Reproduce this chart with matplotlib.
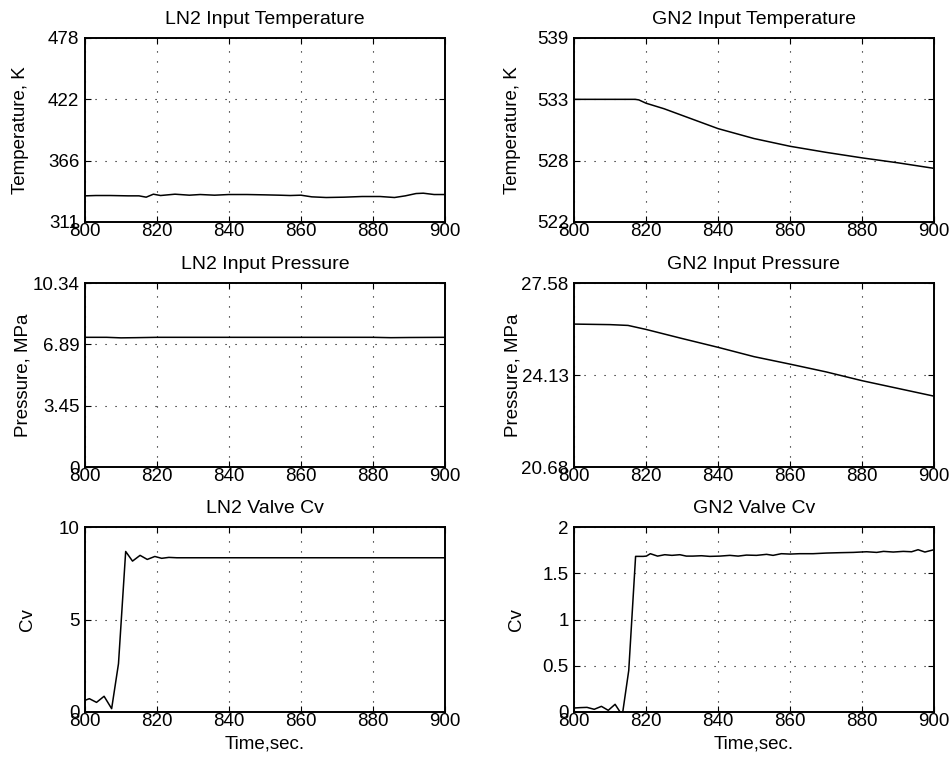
from matplotlib import pyplot as plt

plt.rcParams['font.family'] = ['Liberation Sans', 'DejaVu Sans']
plt.rcParams['font.size'] = 13.5

# LN2 input temperature, K
ln2_temp_t = [800, 803, 807, 812, 815, 817, 819, 821, 825, 829, 832, 836, 840, 845, 850,
              854, 857, 860, 863, 867, 872, 877, 882, 886, 889, 892, 894, 897, 900]
ln2_temp = [334.6, 334.9, 334.9, 334.6, 334.6, 333.4, 336.1, 334.9, 336.1, 335.2, 335.8,
            335.2, 335.8, 335.8, 335.5, 335.2, 334.9, 335.2, 333.7, 333.1, 333.4, 334.0,
            334.0, 333.1, 334.6, 336.7, 337.0, 335.8, 335.8]

# GN2 input temperature, K
gn2_temp_t = [800, 810, 817, 818, 820, 825, 830, 840, 850, 860, 870, 880, 890, 900]
gn2_temp = [533.15, 533.15, 533.15, 533.1, 532.8, 532.3, 531.7, 530.5, 529.6, 528.9,
            528.35, 527.85, 527.4, 526.9]

# LN2 input pressure, MPa
ln2_pres_t = [800, 806, 810, 814, 820, 840, 860, 880, 885, 890, 900]
ln2_pres = [7.29, 7.29, 7.26, 7.27, 7.29, 7.29, 7.29, 7.29, 7.27, 7.28, 7.29]

# GN2 input pressure, MPa
gn2_pres_t = [800, 810, 815, 820, 830, 840, 850, 860, 870, 880, 890, 900]
gn2_pres = [26.04, 26.02, 25.99, 25.84, 25.50, 25.17, 24.82, 24.54, 24.25, 23.92, 23.63, 23.34]

# LN2 valve Cv
ln2_cv_t = [800, 801.2, 803.2, 805.3, 807.4, 809.3, 811.3, 813.2, 815.3, 817.3, 819.4,
            821.3, 823.3, 825.5, 850, 875, 900]
ln2_cv = [0.63, 0.72, 0.52, 0.85, 0.18, 2.61, 8.68, 8.16, 8.47, 8.25, 8.41, 8.31, 8.36,
          8.34, 8.34, 8.34, 8.34]

# GN2 valve Cv
gn2_cv_t = [800, 801.6, 803.6, 805.6, 807.6, 809.5, 811.4, 813.4, 815.2, 817.1, 819.2,
            820.1, 821.2, 823.2, 825.2, 827.2, 829.4, 831.2, 833, 835.4, 837.7, 840.5,
            843.3, 845.6, 847.9, 850.7, 853.5, 855.3, 857.6, 860, 862.7, 866.4, 870.2,
            873.9, 877.6, 881.3, 884.1, 886, 888.7, 891.5, 893.8, 895.6, 897.5, 900]
gn2_cv = [0.043, 0.047, 0.050, 0.029, 0.061, 0.018, 0.083, -0.036, 0.45, 1.683, 1.683,
          1.686, 1.712, 1.686, 1.701, 1.694, 1.701, 1.686, 1.686, 1.690, 1.683, 1.686,
          1.694, 1.686, 1.697, 1.694, 1.705, 1.694, 1.712, 1.708, 1.712, 1.712, 1.719,
          1.723, 1.726, 1.733, 1.726, 1.737, 1.730, 1.737, 1.733, 1.755, 1.730, 1.755]

x_ticks = [800, 820, 840, 860, 880, 900]

panels = [
    # (t, y, title, ylabel, ticks, tick labels, position, label x)
    (ln2_temp_t, ln2_temp, "LN2 Input Temperature", "Temperature, K",
     [310.93, 366.48, 422.04, 477.59], ["311", "366", "422", "478"],
     [0.0893, 0.7083, 0.378, 0.2418], -0.155),
    (gn2_temp_t, gn2_temp, "GN2 Input Temperature", "Temperature, K",
     [522.04, 527.59, 533.15, 538.71], ["522", "528", "533", "539"],
     [0.603, 0.7083, 0.378, 0.2418], -0.148),
    (ln2_pres_t, ln2_pres, "LN2 Input Pressure", "Pressure, MPa",
     [0, 3.447, 6.895, 10.342], ["0", "3.45", "6.89", "10.34"],
     [0.0893, 0.3863, 0.378, 0.2418], -0.15),
    (gn2_pres_t, gn2_pres, "GN2 Input Pressure", "Pressure, MPa",
     [20.684, 24.132, 27.579], ["20.68", "24.13", "27.58"],
     [0.603, 0.3863, 0.378, 0.2418], -0.145),
    (ln2_cv_t, ln2_cv, "LN2 Valve Cv", "Cv",
     [0, 5, 10], ["0", "5", "10"],
     [0.0893, 0.0644, 0.378, 0.243], -0.135),
    (gn2_cv_t, gn2_cv, "GN2 Valve Cv", "Cv",
     [0, 0.5, 1, 1.5, 2], ["0", "0.5", "1", "1.5", "2"],
     [0.603, 0.0644, 0.378, 0.243], -0.135),
]

fig = plt.figure(figsize=(9.52, 7.61), dpi=100)

for i, (t, y, title, ylab, yt, ytl, pos, lx) in enumerate(panels):
    ax = fig.add_axes(pos)
    ax.plot(t, y, color="black", linewidth=1.1)
    ax.set_xlim(800, 900)
    ax.set_ylim(yt[0], yt[-1])
    ax.set_xticks(x_ticks)
    ax.set_yticks(yt)
    ax.set_yticklabels(ytl)
    ax.grid(True, color="black", linestyle=(0, (1, 8)), linewidth=0.8)
    ax.tick_params(direction="in", length=4, top=True, right=True)
    ax.tick_params(axis="x", pad=1)
    ax.tick_params(axis="y", pad=4)
    for s in ax.spines.values():
        s.set_linewidth(1.4)
    ax.set_title(title, fontsize=14, pad=10)
    ax.set_ylabel(ylab)
    ax.yaxis.set_label_coords(lx, 0.5)
    if i >= 4:
        ax.set_xlabel("Time,sec.", labelpad=4)

fig.savefig("out.png", dpi=100)
